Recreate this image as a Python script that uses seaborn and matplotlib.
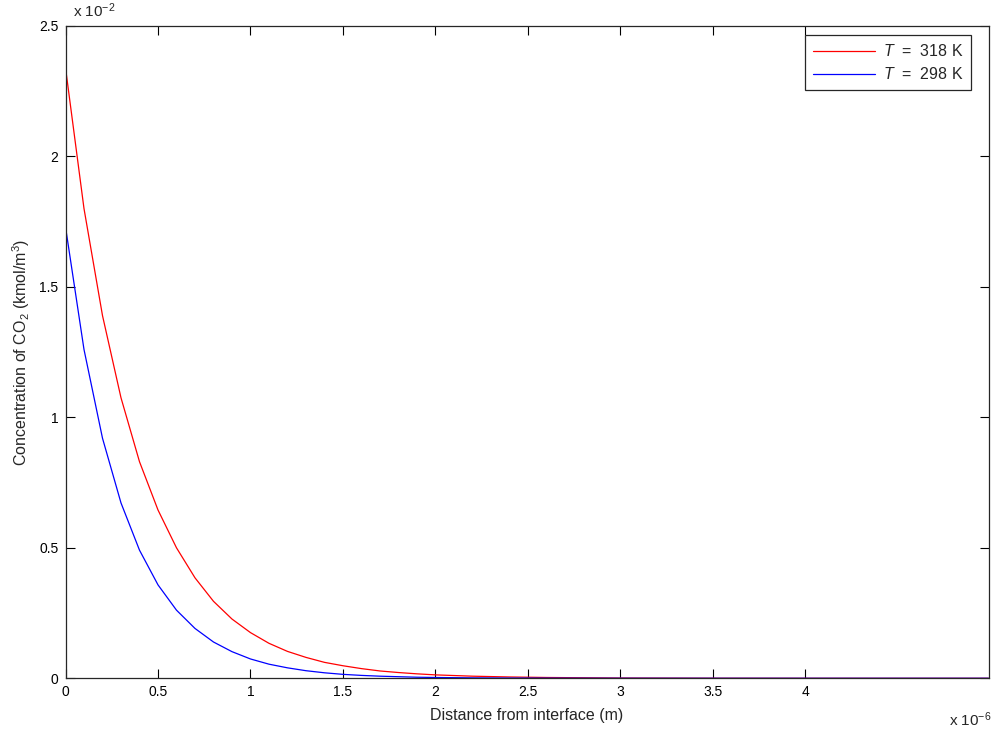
import numpy as np
import pandas as pd
import seaborn as sns
import matplotlib
matplotlib.use("Agg")
import matplotlib.pyplot as plt

# Distance from interface (x 10^-6 m)
distance = [0.0, 0.1, 0.2, 0.3, 0.4, 0.5, 0.6, 0.7, 0.8, 0.9, 1.0,
            1.1, 1.2, 1.3, 1.4, 1.5, 1.6, 1.7, 1.8, 1.9, 2.0,
            2.2, 2.4, 2.6, 3.0, 3.5, 4.0, 4.5, 4.99]

# Concentration of CO2 (x 10^-2 kmol/m3)
conc_318 = [2.34, 1.80, 1.39, 1.075, 0.83, 0.645, 0.50, 0.385, 0.295, 0.227, 0.175,
            0.134, 0.103, 0.080, 0.061, 0.048, 0.037, 0.028, 0.022, 0.017, 0.013,
            0.008, 0.005, 0.003, 0.001, 0.0003, 0.0001, 0.0, 0.0]
conc_298 = [1.73, 1.26, 0.92, 0.672, 0.491, 0.358, 0.261, 0.191, 0.139, 0.102, 0.074,
            0.054, 0.040, 0.029, 0.021, 0.015, 0.011, 0.008, 0.006, 0.004, 0.003,
            0.0016, 0.0009, 0.0005, 0.0001, 0.0, 0.0, 0.0, 0.0]

labels = [r"$\it{T}$  =  318 K", r"$\it{T}$  =  298 K"]
colors = ["#ff0000", "#0000ff"]

df = pd.DataFrame({
    "Distance": distance * 2,
    "Concentration": conc_318 + conc_298,
    "Series": [labels[0]] * len(distance) + [labels[1]] * len(distance),
})

sns.set_theme(style="ticks")
plt.rcParams["font.family"] = ["Liberation Sans", "DejaVu Sans"]
plt.rcParams["mathtext.fontset"] = "custom"
plt.rcParams["mathtext.rm"] = "Liberation Sans"
plt.rcParams["mathtext.it"] = "Liberation Sans:italic"

fig = plt.figure(figsize=(9.94, 7.32), dpi=100)
ax = fig.add_axes([0.0659, 0.0734, 0.9286, 0.8911])

sns.lineplot(data=df, x="Distance", y="Concentration", hue="Series",
             hue_order=labels, palette=dict(zip(labels, colors)),
             linewidth=0.9, ax=ax, legend=True)

ax.set_xlim(0, 4.99)
ax.set_ylim(0, 2.5)
ax.set_xticks([0, 0.5, 1, 1.5, 2, 2.5, 3, 3.5, 4])
ax.set_xticklabels(["0", "0.5", "1", "1.5", "2", "2.5", "3", "3.5", "4"])
ax.set_yticks([0, 0.5, 1, 1.5, 2, 2.5])
ax.set_yticklabels(["0", "0.5", "1", "1.5", "2", "2.5"])
ax.tick_params(direction="in", length=6.5, width=0.8, top=True, right=True,
               labelsize=10, colors="black", pad=5)
for s in ax.spines.values():
    s.set_visible(True)
    s.set_color("#262626")
    s.set_linewidth(0.9)

ax.set_xlabel("Distance from interface (m)", fontsize=11.5, labelpad=6)
ax.set_ylabel(r"Concentration of CO$_2$ (kmol/m$^3$)", fontsize=11.5, labelpad=5)

# MATLAB style exponent labels
fig.text(73 / 994, 1 - 20 / 732, r"x 10$^{-2}$", fontsize=11, ha="left", va="bottom")
fig.text(949 / 994, 1 - 729 / 732, r"x 10$^{-6}$", fontsize=11, ha="left", va="bottom")

handles, _ = ax.get_legend_handles_labels()
leg = ax.legend(handles=handles, labels=labels, loc="upper right",
                bbox_to_anchor=(0.981, 0.986), borderaxespad=0,
                fontsize=11.5, handlelength=3.9, fancybox=False, framealpha=1,
                edgecolor="#262626", borderpad=0.5, labelspacing=0.45,
                handletextpad=0.45)
leg.get_frame().set_linewidth(0.9)

fig.savefig("out.png", dpi=100, facecolor="white")
